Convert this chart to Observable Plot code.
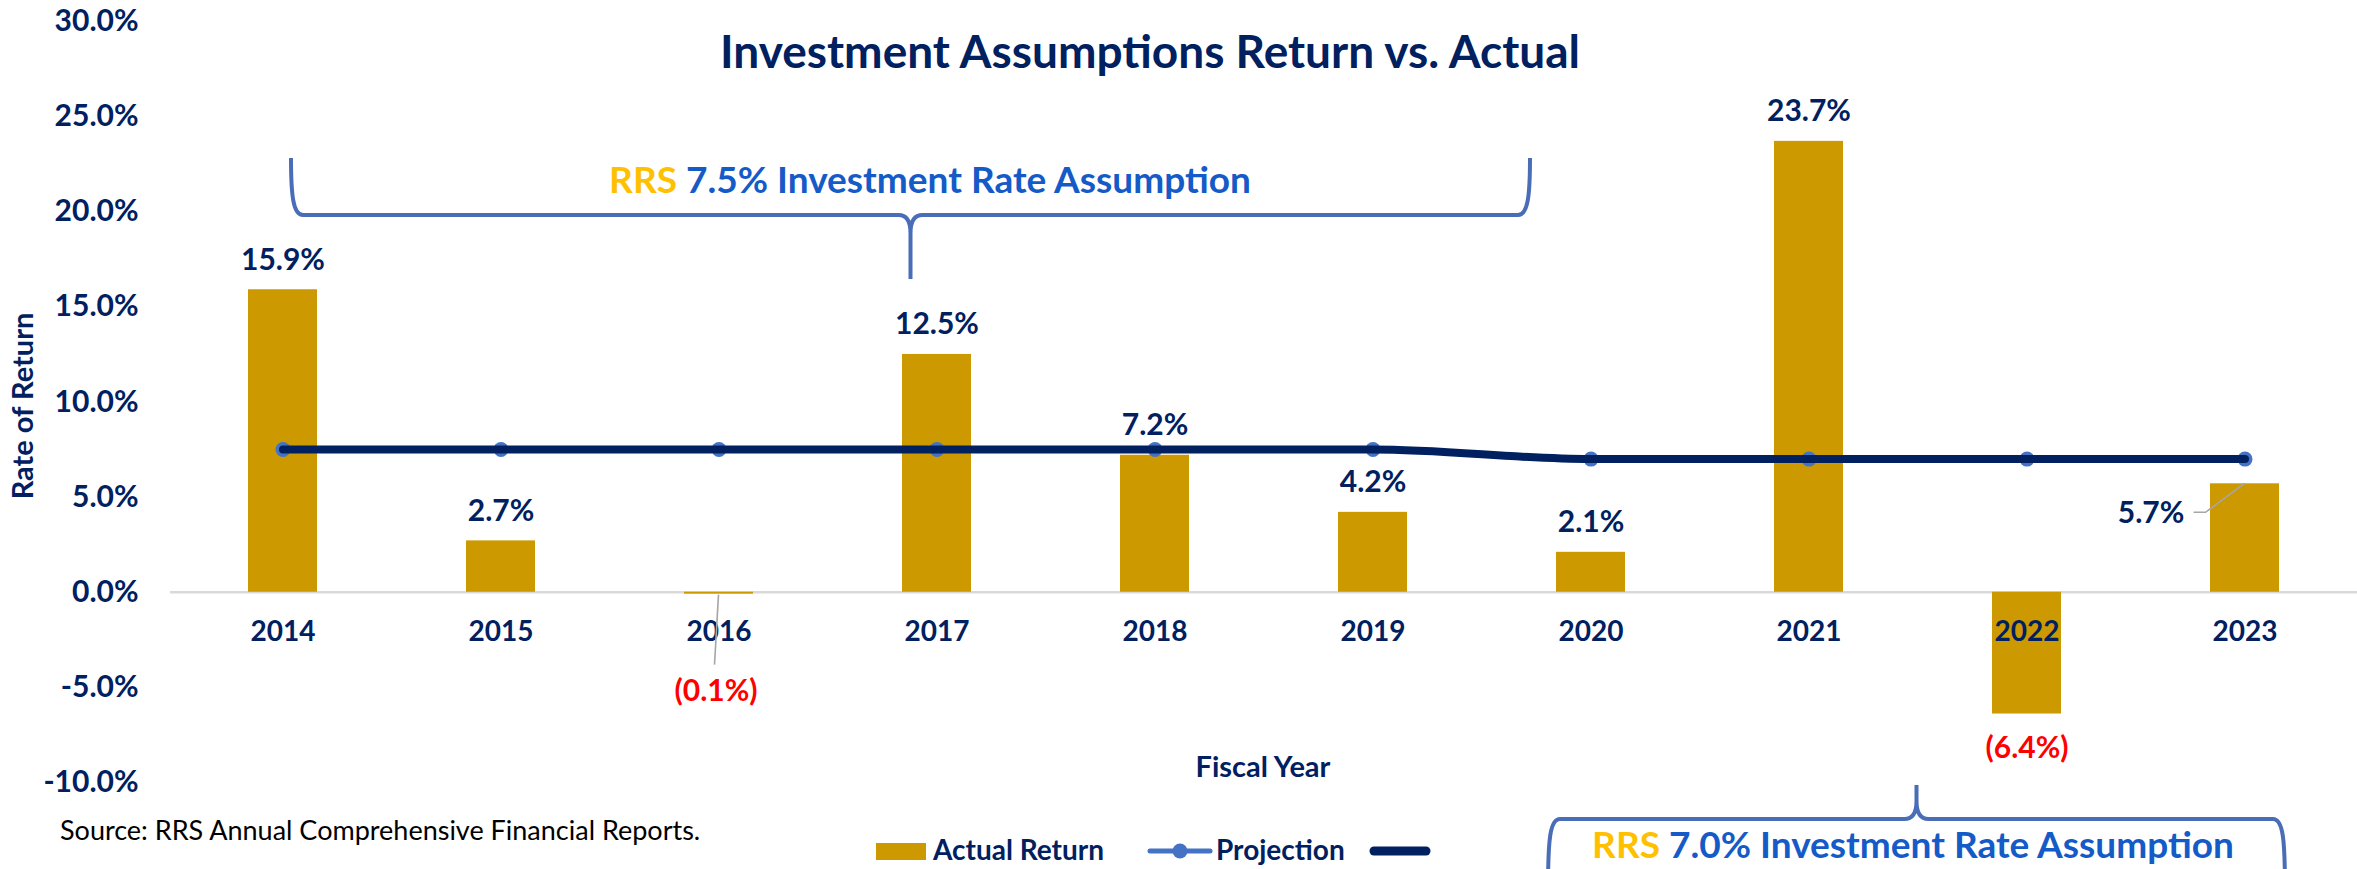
<!DOCTYPE html>
<html><head><meta charset="utf-8">
<script src="https://cdn.jsdelivr.net/npm/d3@7"></script>
<script src="https://cdn.jsdelivr.net/npm/@observablehq/plot@0.6"></script>
<style>
html,body{margin:0;padding:0;background:#fff;}
#chart{width:2357px;height:869px;overflow:hidden;}
svg text{font-family:Lato,"Open Sans",sans-serif;}
</style></head><body><div id="chart"></div>
<script>
// ---- data ----
const years = ["2014","2015","2016","2017","2018","2019","2020","2021","2022","2023"];
const actualReturn = [15.9, 2.7, -0.1, 12.5, 7.2, 4.2, 2.1, 23.7, -6.4, 5.7];
const projection = [7.5, 7.5, 7.5, 7.5, 7.5, 7.5, 7.0, 7.0, 7.0, 7.0];
const yTicks = [-10, -5, 0, 5, 10, 15, 20, 25, 30];

// ---- styles ----
const navy = "#002060", gold = "#CC9900", blue = "#4472C4", red = "#FF0000";
const braceBlue = "#4A6DB8", textBlue = "#155BC8", rrsGold = "#FFC000";
const W = 2357, H = 869;

const fmt = v => v < 0 ? `(${Math.abs(v).toFixed(1)}%)` : `${v.toFixed(1)}%`;
const data = years.map((year, i) => ({year, actual: actualReturn[i], proj: projection[i], label: fmt(actualReturn[i])}));

// label callouts (layout only)
const callout = {"2016": {dx: -3, dy: 97}, "2023": {dx: -94, dy: 30}};
const normal = data.filter(d => !callout[d.year]);
const labelFont = {fontSize: 30, fontWeight: 700};

const plot = Plot.plot({
  width: W, height: H,
  marginLeft: 170, marginRight: 0, marginTop: 21, marginBottom: 87,
  style: {fontFamily: "Lato", background: "white", overflow: "visible"},
  x: {type: "band", domain: years, paddingInner: 0.685, paddingOuter: 0.3425, align: 0.5, axis: null},
  y: {domain: [-10, 30], axis: null},
  marks: [
    Plot.axisY({ticks: yTicks, tickSize: 0, tickPadding: 32, tickFormat: d => d.toFixed(1) + "%", fontSize: 30, fontWeight: 700, fill: navy, label: null}),
    Plot.ruleY([0], {stroke: "#D9D9D9", strokeWidth: 2.5}),
    Plot.barY(data, {x: "year", y: "actual", fill: gold}),
    Plot.text(data, {x: "year", y: () => 0, text: "year", dy: 40, lineAnchor: "middle", fill: navy, fontSize: 28, fontWeight: 700}),
    Plot.dot(data, {x: "year", y: "proj", r: 7.5, fill: blue}),
    Plot.line(data, {x: "year", y: "proj", stroke: navy, strokeWidth: 8, curve: "monotone-x"}),
    Plot.text(normal.filter(d => d.actual >= 0), {x: "year", y: "actual", text: "label", dy: -20, lineAnchor: "bottom", fill: navy, ...labelFont}),
    Plot.text(normal.filter(d => d.actual < 0), {x: "year", y: "actual", text: "label", dy: 34, lineAnchor: "middle", fill: red, ...labelFont}),
    Plot.text(data.filter(d => d.year === "2016"), {x: "year", y: "actual", text: "label", dx: callout["2016"].dx, dy: callout["2016"].dy, lineAnchor: "middle", fill: red, ...labelFont}),
    Plot.text(data.filter(d => d.year === "2023"), {x: "year", y: "actual", text: "label", dx: callout["2023"].dx, dy: callout["2023"].dy, lineAnchor: "middle", fill: navy, ...labelFont})
  ]
});
document.getElementById("chart").appendChild(plot);

const svg = d3.select(plot);
const xs = plot.scale("x"), ys = plot.scale("y");
const cx = y => xs.apply(y) + xs.bandwidth / 2;

// leader lines
const ann = svg.append("g").attr("fill", "none").attr("stroke", "#A6A6A6").attr("stroke-width", 1.6);
{
  const x = cx("2016"), y = ys.apply(-0.1);
  ann.append("path").attr("d", `M${x},${y + 1} L${x - 4},${y + 71}`);
  const x2 = cx("2023"), y2 = ys.apply(5.7);
  ann.append("path").attr("d", `M${x2 - 51},${y2 + 29} L${x2 - 39},${y2 + 29} L${x2},${y2}`);
}

// braces
function brace(x0, x1, yArm, yMid, yTip, r) {
  const xc = (x0 + x1) / 2;
  const s = Math.sign(yMid - yArm), t = Math.sign(yTip - yMid);
  const d = `M${x0},${yArm} C${x0},${yMid - s * 20} ${x0 + 2},${yMid} ${x0 + r},${yMid} L${xc - r},${yMid} Q${xc},${yMid} ${xc},${yMid + t * r * 1.5} L${xc},${yTip}` +
            ` M${xc},${yMid + t * r * 1.5} Q${xc},${yMid} ${xc + r},${yMid} L${x1 - r},${yMid} C${x1 - 2},${yMid} ${x1},${yMid - s * 20} ${x1},${yArm}`;
  svg.append("path").attr("d", d).attr("fill", "none").attr("stroke", braceBlue).attr("stroke-width", 4);
}
brace(291, 1530, 158, 215, 279, 12);
brace(1548, 2285, 890, 819, 785, 12);

function rrsText(x, y, rest) {
  const t = svg.append("text").attr("x", x).attr("y", y).attr("text-anchor", "middle")
    .attr("font-size", 37).attr("font-weight", 700);
  t.append("tspan").attr("fill", rrsGold).text("RRS ");
  t.append("tspan").attr("fill", textBlue).text(rest);
}
rrsText(930, 193, "7.5% Investment Rate Assumption");
rrsText(1913, 858, "7.0% Investment Rate Assumption");

// title
svg.append("text").attr("x", 1150).attr("y", 68).attr("text-anchor", "middle")
  .attr("font-size", 46).attr("font-weight", 700).attr("fill", navy)
  .text("Investment Assumptions Return vs. Actual");

// axis titles
svg.append("text").attr("x", 1263).attr("y", 777).attr("text-anchor", "middle")
  .attr("font-size", 29).attr("font-weight", 700).attr("fill", navy).text("Fiscal Year");
svg.append("text").attr("transform", "translate(23,406) rotate(-90)").attr("text-anchor", "middle")
  .attr("dy", "0.35em").attr("font-size", 29).attr("font-weight", 700).attr("fill", navy).text("Rate of Return");

// source
svg.append("text").attr("x", 60).attr("y", 840).attr("text-anchor", "start").attr("font-size", 27).attr("fill", "#000")
  .text("Source: RRS Annual Comprehensive Financial Reports.");

// legend
const lg = svg.append("g").attr("text-anchor", "start");
lg.append("rect").attr("x", 876).attr("y", 843).attr("width", 50).attr("height", 17).attr("fill", gold);
lg.append("text").attr("x", 933).attr("y", 860).attr("text-anchor", "start").attr("font-size", 28).attr("font-weight", 700).attr("fill", navy).text("Actual Return");
lg.append("line").attr("x1", 1150).attr("x2", 1210).attr("y1", 851).attr("y2", 851).attr("stroke", blue).attr("stroke-width", 5).attr("stroke-linecap", "round");
lg.append("circle").attr("cx", 1180).attr("cy", 851).attr("r", 7.5).attr("fill", blue);
lg.append("text").attr("x", 1216).attr("y", 860).attr("text-anchor", "start").attr("font-size", 28).attr("font-weight", 700).attr("fill", navy).text("Projection");
lg.append("line").attr("x1", 1374).attr("x2", 1426).attr("y1", 851).attr("y2", 851).attr("stroke", navy).attr("stroke-width", 9).attr("stroke-linecap", "round");
</script></body></html>
